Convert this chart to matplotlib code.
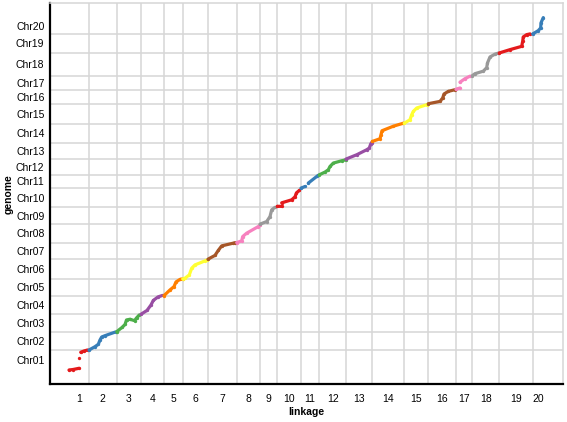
import numpy as np
import matplotlib
matplotlib.use('Agg')
from matplotlib import pyplot as plt

plt.rcParams['font.family'] = ['Liberation Sans', 'DejaVu Sans']

nan = float('nan')

# chromosome names and sizes (linkage map length, genome length)
chroms = ['Chr%02d' % i for i in range(1, 21)]
link_names = [str(i) for i in range(1, 21)]
link_len = [20, 27.7, 24.3, 23, 18.7, 25.3, 28.7, 23.3, 17.3, 23.7,
            18.3, 26.7, 26.3, 32, 24, 27.7, 16.3, 27, 33.4, 11.3]
genome_len = [20, 18.3, 17.4, 18.6, 16.7, 19.7, 16.6, 18.4, 16.8, 19.2,
              13.3, 15.7, 16, 19.3, 20, 14, 14, 22.7, 19, 16.6]

# marker positions inside each chromosome (linkage pos, genome pos), nan = gap
marey_link = [
    [0, 4, 10, nan, 10.3, nan, 11.7, 15, 18.5],
    [0, 6, 9.3, 11, 12.7, 16, 26.5],
    [0, 5.3, 8.3, 9.8, 13.3, 17.8, 19.8, 22.6],
    [0, 6, 10, 12.3, 17, 21.5],
    [0, 6, 10, 12, 16, 18.5],
    [0, 2.3, 6.6, 9, 12.3, 22.3, 24.8],
    [0, 7, 10.3, 13.7, 25.3, 27.5],
    [0, 5, 6, 10, 21.6, 23.3],
    [0, 6.7, 10, 11.7, 15],
    [0, 4.4, nan, 4.4, 14.4, 17.7, 19.2, 22.2],
    [0, 4, nan, 7.3, 15.7, 17.3],
    [0, 5.7, 9, 10.7, 14, 22.4, 26.7],
    [0, 10.7, 20.7, 23.3, 24.7, 25.7],
    [0, 7.7, 8.7, 9.7, 21, 31],
    [0, 5.7, 7.4, 9, 12.4, 22.4, 24],
    [0, 11.7, 14.4, 15.7, 20, 26.7],
    [0, 4, nan, 4, 9, 14],
    [0, 2.7, 11, 14.4, 15.2, 17.7, 22.7, 26],
    [0, 10.7, 22.4, 23.4, 24, 27.4, 30.7],
    [0, 5.6, 8, 8.3, 10.6],
]
marey_genome = [
    [0, 0.5, 1.7, nan, 11.7, nan, 17.7, 19, 20],
    [0, 3.3, 5.7, 10, 13, 14.3, 18],
    [0, 4.2, 7.2, 11.7, 12.4, 11, 13.7, 16.7],
    [0, 3.8, 9.3, 13.8, 17.3, 18.8],
    [0, 5.7, 9, 13.7, 16.2, 16.7],
    [0, 0.7, 4, 10.7, 14, 18, 19],
    [0, 3.8, 8.8, 13.3, 16, 16.6],
    [0, 1.7, 6, 9.4, 16, 17.2],
    [0, 2.6, 7.6, 14.3, 16.8],
    [1, 1, nan, 4.5, 7.5, 10.5, 14.5, 17],
    [0, 1.6, nan, 5, 11.6, 12.8],
    [0, 2.7, 5, 8.3, 11.7, 14, 15],
    [0, 4.3, 9.3, 11, 15, 16.5],
    [1.6, 4.3, 8.3, 12.3, 16.8, 19.8],
    [0.5, 4, 9, 12.3, 15.7, 19, 19.7],
    [0, 2.3, 5.7, 9.7, 12.3, 14],
    [0.5, 1.7, nan, 7.5, 11, 13.5],
    [0, 2, 4.5, 8, 12.7, 18.7, 21.5, 22.5],
    [0, 3.3, 6.6, 11.6, 16, 18.3, 19],
    [0, 3.3, 6, 11, 16.3],
]

colors = ['#e41a1c', '#377eb8', '#4daf4a', '#984ea3', '#ff7f00',
          '#ffff33', '#a65628', '#f781bf', '#999999']

link_start = np.concatenate([[0], np.cumsum(link_len)[:-1]])
genome_start = np.concatenate([[0], np.cumsum(genome_len)[:-1]])
link_mid = link_start + np.array(link_len) / 2
genome_mid = genome_start + np.array(genome_len) / 2

fig = plt.figure(figsize=(5.67, 4.22), dpi=100)
ax = fig.add_axes([0.0882, 0.0900, 0.9047, 0.9022])

for i in range(len(chroms)):
    x = np.array(marey_link[i]) + link_start[i]
    y = np.array(marey_genome[i]) + genome_start[i]
    ax.plot(x, y, color=colors[i % len(colors)], lw=2.3, marker='o', ms=2.4,
            mew=0, solid_capstyle='round', solid_joinstyle='round', zorder=3)

# grid lines at chromosome boundaries
for v in link_start[1:]:
    ax.axvline(v, color='#d6d6d6', lw=1.1, zorder=1)
for h in genome_start[1:]:
    ax.axhline(h, color='#d6d6d6', lw=1.1, zorder=1)

pad_x = 19
pad_y = 14
ax.set_xlim(-pad_x, sum(link_len) + pad_x)
ax.set_ylim(-pad_y, sum(genome_len) + pad_y)

ax.set_xticks(link_mid)
ax.set_xticklabels(link_names, fontsize=7.5)
ax.set_yticks(genome_mid)
ax.set_yticklabels(chroms, fontsize=7.5)
ax.tick_params(length=0)
ax.tick_params(axis='x', pad=7)
ax.tick_params(axis='y', pad=4)

for s in ['left', 'bottom']:
    ax.spines[s].set_linewidth(1.6)
    ax.spines[s].set_color('black')
for s in ['top', 'right']:
    ax.spines[s].set_linewidth(1.1)
    ax.spines[s].set_color('#d6d6d6')

ax.set_xlabel('linkage', fontsize=7.5, fontweight='bold', labelpad=2)
ax.set_ylabel('genome', fontsize=7.5, fontweight='bold', labelpad=2)

fig.savefig('out.png', dpi=100)
